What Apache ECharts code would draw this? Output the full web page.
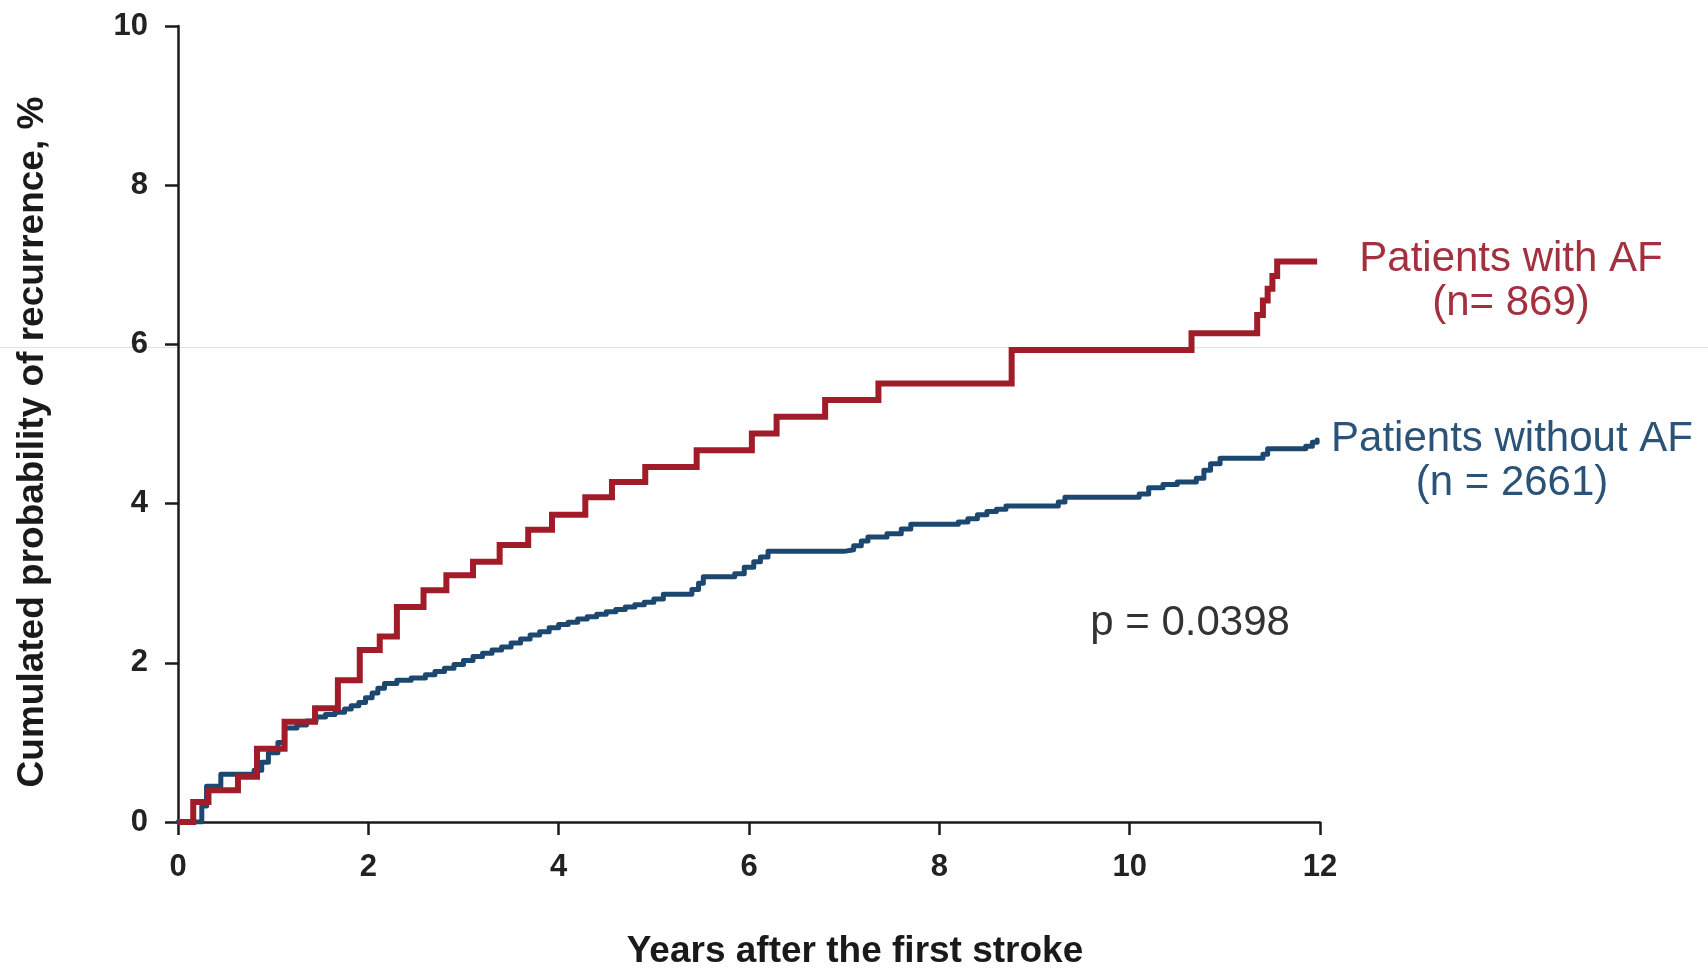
<!DOCTYPE html>
<html>
<head>
<meta charset="utf-8">
<title>Cumulated probability of recurrence</title>
<script src="https://cdn.jsdelivr.net/npm/echarts@6/dist/echarts.min.js"></script>
<style>
  html, body { margin: 0; padding: 0; background: #ffffff; }
  #chart { width: 1708px; height: 970px; }
</style>
</head>
<body>
<div id="chart"></div>
<script>
// Kaplan-Meier style step curves: [years, cumulated probability %]
const afSteps = [
  [0, 0], [0.16, 0.25], [0.32, 0.40], [0.63, 0.57], [0.83, 0.92], [1.12, 1.26],
  [1.44, 1.43], [1.68, 1.78], [1.91, 2.16], [2.12, 2.33], [2.30, 2.70], [2.58, 2.91],
  [2.82, 3.10], [3.10, 3.27], [3.38, 3.48], [3.68, 3.67], [3.93, 3.86], [4.28, 4.08],
  [4.56, 4.27], [4.91, 4.46], [5.45, 4.67], [6.03, 4.88], [6.29, 5.09], [6.80, 5.30],
  [7.36, 5.51], [8.76, 5.93], [10.65, 6.14], [11.34, 6.37], [11.40, 6.55], [11.45, 6.70],
  [11.50, 6.86], [11.55, 7.04], [11.97, 7.04]
];

const noAfSteps = [
  [0, 0], [0.25, 0.20], [0.30, 0.45], [0.45, 0.60], [0.80, 0.65], [0.88, 0.75],
  [0.95, 0.87], [1.05, 1.00], [1.12, 1.18], [1.25, 1.22], [1.35, 1.27], [1.45, 1.32],
  [1.55, 1.35], [1.65, 1.38], [1.75, 1.42], [1.82, 1.46], [1.90, 1.50], [1.97, 1.56],
  [2.04, 1.62], [2.10, 1.68], [2.17, 1.74], [2.30, 1.78], [2.45, 1.81], [2.60, 1.85],
  [2.70, 1.89], [2.80, 1.93], [2.90, 1.98], [3.00, 2.03], [3.10, 2.08], [3.20, 2.12],
  [3.30, 2.16], [3.40, 2.20], [3.50, 2.25], [3.60, 2.30], [3.70, 2.35], [3.80, 2.39],
  [3.90, 2.44], [4.00, 2.48], [4.10, 2.51], [4.20, 2.55], [4.30, 2.58], [4.40, 2.61],
  [4.50, 2.64], [4.60, 2.67], [4.70, 2.70], [4.80, 2.73], [4.90, 2.76], [5.00, 2.80],
  [5.10, 2.86], [5.40, 2.92], [5.47, 3.00], [5.52, 3.08], [5.85, 3.12], [5.95, 3.20],
  [6.05, 3.27], [6.12, 3.33], [6.20, 3.40], [7.00, 3.42], [7.10, 3.47], [7.18, 3.53],
  [7.25, 3.58], [7.45, 3.62], [7.60, 3.68], [7.70, 3.74], [8.20, 3.77], [8.30, 3.81],
  [8.40, 3.86], [8.50, 3.90], [8.60, 3.93], [8.70, 3.97], [9.25, 4.02], [9.32, 4.08],
  [10.10, 4.12], [10.20, 4.20], [10.35, 4.24], [10.50, 4.27], [10.70, 4.32], [10.78, 4.42],
  [10.85, 4.50], [10.95, 4.57], [11.40, 4.62], [11.45, 4.69], [11.85, 4.72], [11.92, 4.77],
  [11.97, 4.80]
];

const xTicks = { min: 0, max: 12, interval: 2 };
const yTicks = { min: 0, max: 10, interval: 2 };

const afLabel = ['Patients with AF', '(n= 869)'];
const noAfLabel = ['Patients without AF', '(n = 2661)'];
const pValueLabel = 'p = 0.0398';
const xTitle = 'Years after the first stroke';
const yTitle = 'Cumulated probability of recurrence, %';

const RED = '#a01c28';
const BLUE = '#1c4870';
const FONT = 'Liberation Sans, Arial, Helvetica, sans-serif';

const chart = echarts.init(document.getElementById('chart'), null, { renderer: 'canvas' });

const axisCommon = {
  type: 'value',
  axisLine: { show: true, lineStyle: { color: '#1a1a1a', width: 2.5 } },
  axisTick: { show: true, inside: false, length: 13, lineStyle: { color: '#1a1a1a', width: 2.5 } },
  splitLine: { show: false },
  axisLabel: { color: '#222', fontSize: 31, fontWeight: 'bold', fontFamily: FONT }
};

chart.setOption({
  backgroundColor: '#ffffff',
  animation: false,
  grid: { left: 178, top: 26, right: 388, bottom: 148 },
  xAxis: Object.assign({}, axisCommon, {
    min: xTicks.min, max: xTicks.max, interval: xTicks.interval,
    axisLabel: Object.assign({}, axisCommon.axisLabel, { margin: 30 })
  }),
  yAxis: Object.assign({}, axisCommon, {
    min: yTicks.min, max: yTicks.max, interval: yTicks.interval,
    axisLabel: Object.assign({}, axisCommon.axisLabel, { margin: 30 })
  }),
  series: [
    {
      name: 'Patients without AF',
      type: 'line',
      step: 'end',
      data: noAfSteps,
      showSymbol: false,
      lineStyle: { color: BLUE, width: 5, cap: 'round', join: 'round' },
      z: 3
    },
    {
      name: 'Patients with AF',
      type: 'line',
      step: 'end',
      data: afSteps,
      showSymbol: false,
      lineStyle: { color: RED, width: 6, join: 'miter' },
      z: 4
    }
  ],
  graphic: [
    // faint horizontal rule running across the page
    { type: 'line', z: 0, silent: true,
      shape: { x1: 0, y1: 347.5, x2: 1708, y2: 347.5 },
      style: { stroke: '#dde2e7', lineWidth: 1 } },
    { type: 'text', x: 1511, y: 259,
      style: { text: afLabel[0], fill: '#a3303e', font: '42px ' + FONT, textAlign: 'center', textVerticalAlign: 'middle' } },
    { type: 'text', x: 1511, y: 303,
      style: { text: afLabel[1], fill: '#a3303e', font: '42px ' + FONT, textAlign: 'center', textVerticalAlign: 'middle' } },
    { type: 'text', x: 1512, y: 439,
      style: { text: noAfLabel[0], fill: '#2b5378', font: '42px ' + FONT, textAlign: 'center', textVerticalAlign: 'middle' } },
    { type: 'text', x: 1512, y: 483,
      style: { text: noAfLabel[1], fill: '#2b5378', font: '42px ' + FONT, textAlign: 'center', textVerticalAlign: 'middle' } },
    { type: 'text', x: 1190, y: 623,
      style: { text: pValueLabel, fill: '#333333', font: '42px ' + FONT, textAlign: 'center', textVerticalAlign: 'middle' } },
    { type: 'text', x: 855, y: 952,
      style: { text: xTitle, fill: '#1a1a1a', font: 'bold 37px ' + FONT, textAlign: 'center', textVerticalAlign: 'middle' } },
    { type: 'text', x: 33, y: 442, rotation: Math.PI / 2,
      style: { text: yTitle, fill: '#1a1a1a', font: 'bold 37px ' + FONT, textAlign: 'center', textVerticalAlign: 'middle' } }
  ]
});
</script>
</body>
</html>
